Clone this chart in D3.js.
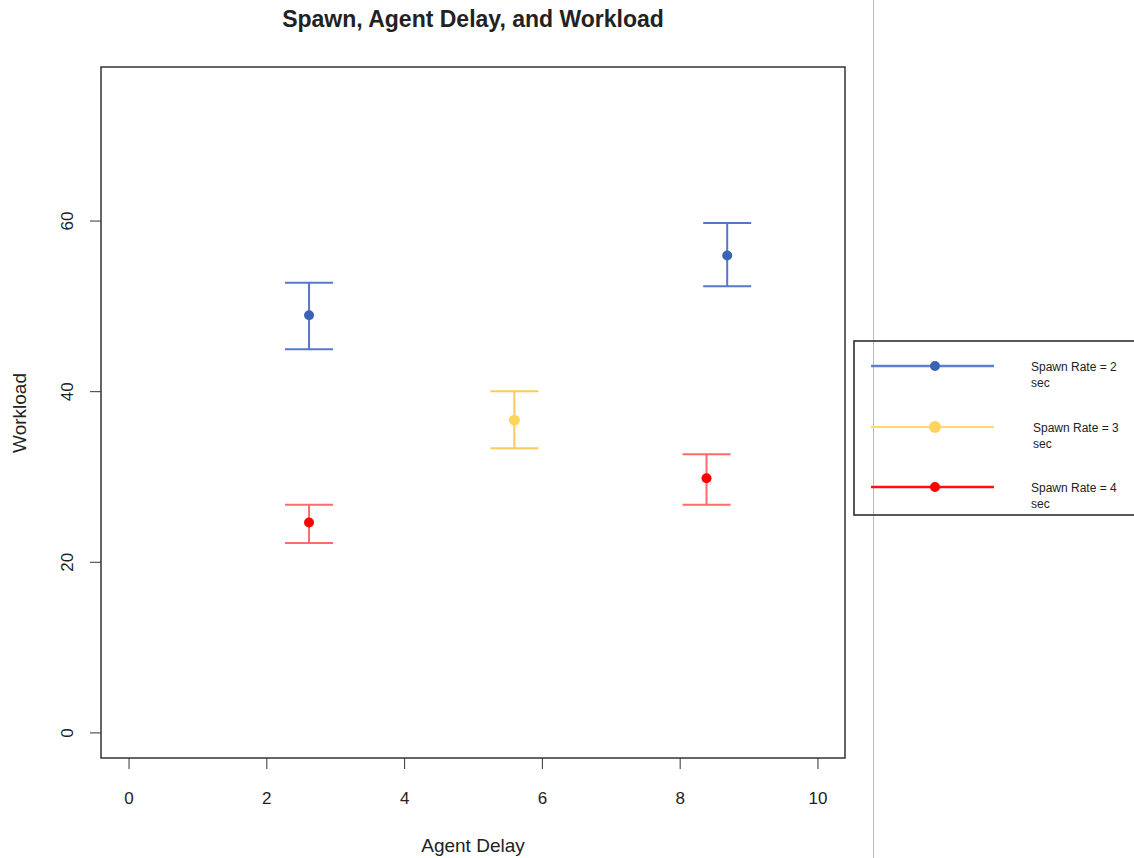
<!DOCTYPE html>
<html lang="en">
<head>
<meta charset="UTF-8">
<title>Spawn, Agent Delay, and Workload</title>
<script src="https://d3js.org/d3.v7.min.js"></script>
<style>
  body { margin: 0; background: #fff; }
  text { font-family: "Liberation Sans", Arial, sans-serif; fill: #222; }
</style>
</head>
<body>
<script>
// data
const seriesNames = ["Spawn Rate = 2 sec", "Spawn Rate = 3 sec", "Spawn Rate = 4 sec"];
const seriesColors = ["#3b63b3", "#ffd35c", "#ff0000"];
const barColors = ["#5577c8", "#ffc85a", "#ff6a6a"];
const legendColors = ["#5a82cc", "#ffd870", "#ff1010"];
const delay2 = [2.62, 8.69];
const mean2 = [48.9, 55.9];
const lo2 = [44.9, 52.3];
const hi2 = [52.7, 59.7];
const delay3 = [5.6];
const mean3 = [36.6];
const lo3 = [33.3];
const hi3 = [40.0];
const delay4 = [2.62, 8.39];
const mean4 = [24.6, 29.8];
const lo4 = [22.2, 26.7];
const hi4 = [26.7, 32.6];
const xTicks = [0, 2, 4, 6, 8, 10];
const yTicks = [0, 20, 40, 60];

const series = [
  { x: delay2, y: mean2, lo: lo2, hi: hi2 },
  { x: delay3, y: mean3, lo: lo3, hi: hi3 },
  { x: delay4, y: mean4, lo: lo4, hi: hi4 }
];

const W = 1134, H = 858;
const box = { left: 101, right: 845, top: 67, bottom: 758 };

const svg = d3.select("body").append("svg")
  .attr("width", W).attr("height", H);

const x = d3.scaleLinear().domain([-0.4, 10.4]).range([box.left, box.right]);
const y = d3.scaleLinear().domain([-3, 78]).range([box.bottom, box.top]);

// vertical separator line on the right
svg.append("line")
  .attr("x1", 873.5).attr("x2", 873.5).attr("y1", 0).attr("y2", H)
  .attr("stroke", "#bbb").attr("stroke-width", 1);

// plot box
svg.append("rect")
  .attr("x", box.left).attr("y", box.top)
  .attr("width", box.right - box.left).attr("height", box.bottom - box.top)
  .attr("fill", "none").attr("stroke", "#333").attr("stroke-width", 1.5);

// x axis
const xAxis = svg.append("g")
  .attr("transform", `translate(0,${box.bottom})`)
  .call(d3.axisBottom(x).tickValues(xTicks).tickSize(11).tickPadding(23));
xAxis.select(".domain").remove();
xAxis.selectAll("line").attr("stroke", "#333");
xAxis.selectAll("text").style("font-size", "17px")
  .style("font-family", "Liberation Sans, Arial, sans-serif").attr("fill", "#222");

// y axis
const yAxis = svg.append("g")
  .attr("transform", `translate(${box.left},0)`)
  .call(d3.axisLeft(y).tickValues(yTicks).tickSize(11));
yAxis.select(".domain").remove();
yAxis.selectAll("line").attr("stroke", "#333");
yAxis.selectAll("text")
  .attr("x", null).attr("dy", null)
  .attr("transform", "translate(-34,0) rotate(-90)")
  .attr("text-anchor", "middle").attr("dy", "0.35em")
  .style("font-size", "17px")
  .style("font-family", "Liberation Sans, Arial, sans-serif").attr("fill", "#222");

// titles
svg.append("text").attr("x", 473).attr("y", 27).attr("text-anchor", "middle")
  .style("font-size", "23px").style("font-weight", "bold").attr("fill", "#111")
  .text("Spawn, Agent Delay, and Workload");
svg.append("text").attr("x", 473).attr("y", 852).attr("text-anchor", "middle")
  .style("font-size", "19px").text("Agent Delay");
svg.append("text").attr("transform", "translate(26,413) rotate(-90)")
  .attr("text-anchor", "middle").style("font-size", "19px").text("Workload");

// error bars and points
const capHalf = 24;
series.forEach((s, i) => {
  const g = svg.append("g");
  const idx = d3.range(s.x.length);
  g.selectAll("line.stem").data(idx).join("line")
    .attr("x1", d => x(s.x[d])).attr("x2", d => x(s.x[d]))
    .attr("y1", d => y(s.lo[d])).attr("y2", d => y(s.hi[d]))
    .attr("stroke", barColors[i]).attr("stroke-width", 2);
  ["lo", "hi"].forEach(k => {
    g.selectAll("line.cap" + k).data(idx).join("line")
      .attr("x1", d => x(s.x[d]) - capHalf).attr("x2", d => x(s.x[d]) + capHalf)
      .attr("y1", d => y(s[k][d])).attr("y2", d => y(s[k][d]))
      .attr("stroke", barColors[i]).attr("stroke-width", 2);
  });
  g.selectAll("circle").data(idx).join("circle")
    .attr("cx", d => x(s.x[d])).attr("cy", d => y(s.y[d]))
    .attr("r", i === 1 ? 5.5 : 5).attr("fill", seriesColors[i]);
});

// legend
const leg = svg.append("g");
leg.append("rect").attr("x", 854).attr("y", 341).attr("width", 290).attr("height", 174)
  .attr("fill", "none").attr("stroke", "#222").attr("stroke-width", 1.5);
const legY = [366, 427, 487];
seriesNames.forEach((name, i) => {
  leg.append("line").attr("x1", 871).attr("x2", 994)
    .attr("y1", legY[i]).attr("y2", legY[i])
    .attr("stroke", legendColors[i]).attr("stroke-width", i === 1 ? 2 : 2.5);
  leg.append("circle").attr("cx", 935).attr("cy", legY[i]).attr("r", i === 1 ? 6 : 5)
    .attr("fill", seriesColors[i]);
  const parts = name.split(" sec");
  const t = leg.append("text").attr("x", i === 1 ? 1033 : 1031).attr("y", legY[i] + 5)
    .style("font-size", "12px");
  t.append("tspan").text(parts[0]);
  t.append("tspan").attr("x", i === 1 ? 1033 : 1031).attr("dy", 16).text("sec");
});
</script>
</body>
</html>
